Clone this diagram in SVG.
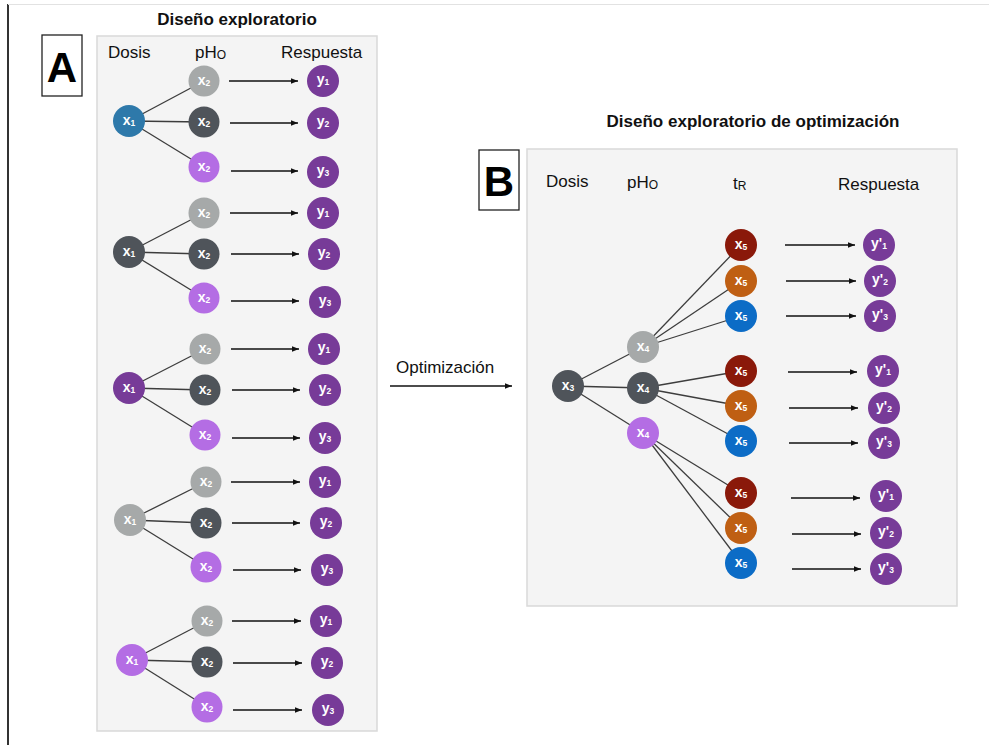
<svg xmlns="http://www.w3.org/2000/svg" width="989" height="745" viewBox="0 0 989 745">
<defs>
<marker id="ah" viewBox="0 0 10 10" refX="10" refY="5" markerWidth="7" markerHeight="7" markerUnits="userSpaceOnUse" orient="auto"><path d="M0,1 L10,5 L0,9 z" fill="#111"/></marker>
<style>
.frame{stroke:#333;stroke-width:2;fill:none}
.topline{stroke:#e2e2e2;stroke-width:1;fill:none}
.panel{fill:#f4f4f4;stroke:#d9d9d9;stroke-width:1.5}
.lbox{fill:#fff;stroke:#222;stroke-width:1.3}
.big{font-family:"Liberation Sans",Arial,sans-serif;font-weight:bold;font-size:42px;fill:#000}
.title{font-family:"Liberation Sans",Arial,sans-serif;font-weight:bold;font-size:17px;fill:#111}
.hdr{font-family:"Liberation Sans",Arial,sans-serif;font-size:17px;fill:#111}
.hsub{font-size:12px}
.lab{font-family:"Liberation Sans",Arial,sans-serif;font-size:17px;fill:#111}
.edge{stroke:#3d3d3d;stroke-width:1.3;fill:none}
.arr{stroke:#111;stroke-width:1.3;fill:none;marker-end:url(#ah)}
.nl{font-family:"Liberation Sans",Arial,sans-serif;font-weight:bold;font-size:14px;fill:#fff;text-anchor:middle}
.sub{font-size:8.5px}
.blue{fill:#2e79aa}
.dark{fill:#4f545a}
.lgray{fill:#a6a9a9}
.lpur{fill:#b46de4}
.pur{fill:#773b98}
.red{fill:#8a190a}
.org{fill:#bf5f13}
.blu2{fill:#0c6cc6}
</style>
</defs>
<line class="frame" x1="8" y1="4" x2="8" y2="745"/>
<line class="topline" x1="8" y1="4.5" x2="989" y2="4.5"/>

<g id="panelA">
<rect class="panel" x="97" y="36" width="280" height="695"/>
<rect class="lbox" x="42" y="35" width="40" height="61"/>
<text class="big" x="62" y="82" text-anchor="middle">A</text>
<text class="title" x="237" y="25" text-anchor="middle">Diseño exploratorio</text>
<text class="hdr" x="108" y="58">Dosis</text>
<text class="hdr" x="195" y="58">pH<tspan class="hsub" dy="1">O</tspan></text>
<text class="hdr" x="281" y="58">Respuesta</text>
</g>

<g id="panelB">
<rect class="panel" x="527" y="149" width="430" height="457"/>
<rect class="lbox" x="479" y="150" width="40" height="60"/>
<text class="big" x="499" y="196" text-anchor="middle">B</text>
<text class="title" x="753" y="127" text-anchor="middle">Diseño exploratorio de optimización</text>
<text class="hdr" x="546" y="187">Dosis</text>
<text class="hdr" x="627" y="188">pH<tspan class="hsub" dy="1">O</tspan></text>
<text class="hdr" x="733" y="189">t<tspan class="hsub" dy="1">R</tspan></text>
<text class="hdr" x="838" y="190">Respuesta</text>
</g>

<g id="connectors">
<line class="edge" x1="129" y1="121" x2="204" y2="81"/><line class="edge" x1="129" y1="121" x2="204" y2="122"/><line class="edge" x1="129" y1="121" x2="204" y2="167"/>
<line class="arr" x1="229" y1="81" x2="298" y2="81"/><line class="arr" x1="230" y1="123" x2="298" y2="123"/><line class="arr" x1="231" y1="171" x2="298" y2="171"/>
<line class="edge" x1="129" y1="252" x2="204" y2="213"/><line class="edge" x1="129" y1="252" x2="204" y2="254"/><line class="edge" x1="129" y1="252" x2="204" y2="298"/>
<line class="arr" x1="230" y1="213" x2="298" y2="213"/><line class="arr" x1="231" y1="254" x2="299" y2="254"/><line class="arr" x1="231" y1="301" x2="299" y2="301"/>
<line class="edge" x1="129" y1="388" x2="205" y2="349"/><line class="edge" x1="129" y1="388" x2="205" y2="390"/><line class="edge" x1="129" y1="388" x2="205" y2="435"/>
<line class="arr" x1="231" y1="349" x2="299" y2="349"/><line class="arr" x1="232" y1="390" x2="300" y2="390"/><line class="arr" x1="232" y1="438" x2="300" y2="438"/>
<line class="edge" x1="130" y1="520" x2="206" y2="482"/><line class="edge" x1="130" y1="520" x2="206" y2="523"/><line class="edge" x1="130" y1="520" x2="206" y2="567"/>
<line class="arr" x1="231" y1="482" x2="300" y2="482"/><line class="arr" x1="232" y1="523" x2="300" y2="523"/><line class="arr" x1="233" y1="570" x2="301" y2="570"/>
<line class="edge" x1="132" y1="660" x2="207" y2="621"/><line class="edge" x1="132" y1="660" x2="207" y2="662"/><line class="edge" x1="132" y1="660" x2="207" y2="707"/>
<line class="arr" x1="232" y1="621" x2="301" y2="621"/><line class="arr" x1="233" y1="663" x2="302" y2="663"/><line class="arr" x1="233" y1="710" x2="302" y2="710"/>
<line class="arr" x1="390" y1="386" x2="512" y2="386"/>
<line class="edge" x1="568" y1="386" x2="643" y2="347"/><line class="edge" x1="568" y1="386" x2="643" y2="388"/><line class="edge" x1="568" y1="386" x2="643" y2="433"/>
<line class="edge" x1="643" y1="347" x2="741" y2="245"/><line class="edge" x1="643" y1="347" x2="741" y2="281"/><line class="edge" x1="643" y1="347" x2="741" y2="316"/>
<line class="edge" x1="643" y1="388" x2="741" y2="371"/><line class="edge" x1="643" y1="388" x2="741" y2="406"/><line class="edge" x1="643" y1="388" x2="741" y2="441"/>
<line class="edge" x1="643" y1="433" x2="741" y2="493"/><line class="edge" x1="643" y1="433" x2="741" y2="528"/><line class="edge" x1="643" y1="433" x2="741" y2="563"/>
<line class="arr" x1="785" y1="245" x2="855" y2="245"/><line class="arr" x1="786" y1="281" x2="856" y2="281"/><line class="arr" x1="786" y1="316" x2="856" y2="316"/>
<line class="arr" x1="788" y1="372" x2="857" y2="372"/><line class="arr" x1="789" y1="408" x2="858" y2="408"/><line class="arr" x1="789" y1="443" x2="858" y2="443"/>
<line class="arr" x1="791" y1="498" x2="860" y2="498"/><line class="arr" x1="792" y1="534" x2="861" y2="534"/><line class="arr" x1="792" y1="569" x2="861" y2="569"/>
</g>

<text class="lab" x="396" y="373">Optimización</text>

<g id="a1-x1"><circle class="blue" cx="129" cy="121" r="16"/><text class="nl" x="129" y="125">x<tspan class="sub" dy="1">1</tspan></text></g>
<g id="a1-x2a"><circle class="lgray" cx="204" cy="81" r="15.5"/><text class="nl" x="204" y="85">x<tspan class="sub" dy="1">2</tspan></text></g>
<g id="a1-x2b"><circle class="dark" cx="204" cy="122" r="15.5"/><text class="nl" x="204" y="126">x<tspan class="sub" dy="1">2</tspan></text></g>
<g id="a1-x2c"><circle class="lpur" cx="204" cy="167" r="15.5"/><text class="nl" x="204" y="171">x<tspan class="sub" dy="1">2</tspan></text></g>
<g id="a1-y1"><circle class="pur" cx="323" cy="81" r="16"/><text class="nl" x="323" y="84">y<tspan class="sub" dy="1">1</tspan></text></g>
<g id="a1-y2"><circle class="pur" cx="323" cy="123" r="16"/><text class="nl" x="323" y="126">y<tspan class="sub" dy="1">2</tspan></text></g>
<g id="a1-y3"><circle class="pur" cx="323" cy="172" r="16"/><text class="nl" x="323" y="175">y<tspan class="sub" dy="1">3</tspan></text></g>

<g id="a2-x1"><circle class="dark" cx="129" cy="252" r="16"/><text class="nl" x="129" y="256">x<tspan class="sub" dy="1">1</tspan></text></g>
<g id="a2-x2a"><circle class="lgray" cx="204" cy="213" r="15.5"/><text class="nl" x="204" y="217">x<tspan class="sub" dy="1">2</tspan></text></g>
<g id="a2-x2b"><circle class="dark" cx="204" cy="254" r="15.5"/><text class="nl" x="204" y="258">x<tspan class="sub" dy="1">2</tspan></text></g>
<g id="a2-x2c"><circle class="lpur" cx="204" cy="298" r="15.5"/><text class="nl" x="204" y="302">x<tspan class="sub" dy="1">2</tspan></text></g>
<g id="a2-y1"><circle class="pur" cx="323" cy="213" r="16"/><text class="nl" x="323" y="216">y<tspan class="sub" dy="1">1</tspan></text></g>
<g id="a2-y2"><circle class="pur" cx="324" cy="254" r="16"/><text class="nl" x="324" y="257">y<tspan class="sub" dy="1">2</tspan></text></g>
<g id="a2-y3"><circle class="pur" cx="325" cy="302" r="16"/><text class="nl" x="325" y="305">y<tspan class="sub" dy="1">3</tspan></text></g>

<g id="a3-x1"><circle class="pur" cx="129" cy="388" r="16"/><text class="nl" x="129" y="392">x<tspan class="sub" dy="1">1</tspan></text></g>
<g id="a3-x2a"><circle class="lgray" cx="205" cy="349" r="15.5"/><text class="nl" x="205" y="353">x<tspan class="sub" dy="1">2</tspan></text></g>
<g id="a3-x2b"><circle class="dark" cx="205" cy="390" r="15.5"/><text class="nl" x="205" y="394">x<tspan class="sub" dy="1">2</tspan></text></g>
<g id="a3-x2c"><circle class="lpur" cx="205" cy="435" r="15.5"/><text class="nl" x="205" y="439">x<tspan class="sub" dy="1">2</tspan></text></g>
<g id="a3-y1"><circle class="pur" cx="324" cy="349" r="16"/><text class="nl" x="324" y="352">y<tspan class="sub" dy="1">1</tspan></text></g>
<g id="a3-y2"><circle class="pur" cx="325" cy="390" r="16"/><text class="nl" x="325" y="393">y<tspan class="sub" dy="1">2</tspan></text></g>
<g id="a3-y3"><circle class="pur" cx="325" cy="438" r="16"/><text class="nl" x="325" y="441">y<tspan class="sub" dy="1">3</tspan></text></g>

<g id="a4-x1"><circle class="lgray" cx="130" cy="520" r="16"/><text class="nl" x="130" y="524">x<tspan class="sub" dy="1">1</tspan></text></g>
<g id="a4-x2a"><circle class="lgray" cx="206" cy="482" r="15.5"/><text class="nl" x="206" y="486">x<tspan class="sub" dy="1">2</tspan></text></g>
<g id="a4-x2b"><circle class="dark" cx="206" cy="523" r="15.5"/><text class="nl" x="206" y="527">x<tspan class="sub" dy="1">2</tspan></text></g>
<g id="a4-x2c"><circle class="lpur" cx="206" cy="567" r="15.5"/><text class="nl" x="206" y="571">x<tspan class="sub" dy="1">2</tspan></text></g>
<g id="a4-y1"><circle class="pur" cx="325" cy="482" r="16"/><text class="nl" x="325" y="485">y<tspan class="sub" dy="1">1</tspan></text></g>
<g id="a4-y2"><circle class="pur" cx="326" cy="523" r="16"/><text class="nl" x="326" y="526">y<tspan class="sub" dy="1">2</tspan></text></g>
<g id="a4-y3"><circle class="pur" cx="327" cy="570" r="16"/><text class="nl" x="327" y="573">y<tspan class="sub" dy="1">3</tspan></text></g>

<g id="a5-x1"><circle class="lpur" cx="132" cy="660" r="16"/><text class="nl" x="132" y="664">x<tspan class="sub" dy="1">1</tspan></text></g>
<g id="a5-x2a"><circle class="lgray" cx="207" cy="621" r="15.5"/><text class="nl" x="207" y="625">x<tspan class="sub" dy="1">2</tspan></text></g>
<g id="a5-x2b"><circle class="dark" cx="207" cy="662" r="15.5"/><text class="nl" x="207" y="666">x<tspan class="sub" dy="1">2</tspan></text></g>
<g id="a5-x2c"><circle class="lpur" cx="207" cy="707" r="15.5"/><text class="nl" x="207" y="711">x<tspan class="sub" dy="1">2</tspan></text></g>
<g id="a5-y1"><circle class="pur" cx="326" cy="621" r="16"/><text class="nl" x="326" y="624">y<tspan class="sub" dy="1">1</tspan></text></g>
<g id="a5-y2"><circle class="pur" cx="327" cy="663" r="16"/><text class="nl" x="327" y="666">y<tspan class="sub" dy="1">2</tspan></text></g>
<g id="a5-y3"><circle class="pur" cx="328" cy="710" r="16"/><text class="nl" x="328" y="713">y<tspan class="sub" dy="1">3</tspan></text></g>

<g id="b-x3"><circle class="dark" cx="568" cy="386" r="16"/><text class="nl" x="568" y="390">x<tspan class="sub" dy="1">3</tspan></text></g>
<g id="b-x4a"><circle class="lgray" cx="643" cy="347" r="16"/><text class="nl" x="643" y="351">x<tspan class="sub" dy="1">4</tspan></text></g>
<g id="b-x4b"><circle class="dark" cx="643" cy="388" r="16"/><text class="nl" x="643" y="392">x<tspan class="sub" dy="1">4</tspan></text></g>
<g id="b-x4c"><circle class="lpur" cx="643" cy="433" r="16"/><text class="nl" x="643" y="437">x<tspan class="sub" dy="1">4</tspan></text></g>

<g id="b-x5-1a"><circle class="red" cx="741" cy="245" r="16"/><text class="nl" x="741" y="249">x<tspan class="sub" dy="1">5</tspan></text></g>
<g id="b-x5-1b"><circle class="org" cx="741" cy="281" r="16"/><text class="nl" x="741" y="285">x<tspan class="sub" dy="1">5</tspan></text></g>
<g id="b-x5-1c"><circle class="blu2" cx="741" cy="316" r="16"/><text class="nl" x="741" y="320">x<tspan class="sub" dy="1">5</tspan></text></g>
<g id="b-x5-2a"><circle class="red" cx="741" cy="371" r="16"/><text class="nl" x="741" y="375">x<tspan class="sub" dy="1">5</tspan></text></g>
<g id="b-x5-2b"><circle class="org" cx="741" cy="406" r="16"/><text class="nl" x="741" y="410">x<tspan class="sub" dy="1">5</tspan></text></g>
<g id="b-x5-2c"><circle class="blu2" cx="741" cy="441" r="16"/><text class="nl" x="741" y="445">x<tspan class="sub" dy="1">5</tspan></text></g>
<g id="b-x5-3a"><circle class="red" cx="741" cy="493" r="16"/><text class="nl" x="741" y="497">x<tspan class="sub" dy="1">5</tspan></text></g>
<g id="b-x5-3b"><circle class="org" cx="741" cy="528" r="16"/><text class="nl" x="741" y="532">x<tspan class="sub" dy="1">5</tspan></text></g>
<g id="b-x5-3c"><circle class="blu2" cx="741" cy="563" r="16"/><text class="nl" x="741" y="567">x<tspan class="sub" dy="1">5</tspan></text></g>

<g id="b-y1a"><circle class="pur" cx="879" cy="245" r="16"/><text class="nl" x="879" y="248">y'<tspan class="sub" dy="1">1</tspan></text></g>
<g id="b-y2a"><circle class="pur" cx="880" cy="281" r="16"/><text class="nl" x="880" y="284">y'<tspan class="sub" dy="1">2</tspan></text></g>
<g id="b-y3a"><circle class="pur" cx="880" cy="316" r="16"/><text class="nl" x="880" y="319">y'<tspan class="sub" dy="1">3</tspan></text></g>
<g id="b-y1b"><circle class="pur" cx="883" cy="371" r="16"/><text class="nl" x="883" y="374">y'<tspan class="sub" dy="1">1</tspan></text></g>
<g id="b-y2b"><circle class="pur" cx="884" cy="408" r="16"/><text class="nl" x="884" y="411">y'<tspan class="sub" dy="1">2</tspan></text></g>
<g id="b-y3b"><circle class="pur" cx="884" cy="443" r="16"/><text class="nl" x="884" y="446">y'<tspan class="sub" dy="1">3</tspan></text></g>
<g id="b-y1c"><circle class="pur" cx="886" cy="496" r="16"/><text class="nl" x="886" y="499">y'<tspan class="sub" dy="1">1</tspan></text></g>
<g id="b-y2c"><circle class="pur" cx="886" cy="533" r="16"/><text class="nl" x="886" y="536">y'<tspan class="sub" dy="1">2</tspan></text></g>
<g id="b-y3c"><circle class="pur" cx="886" cy="569" r="16"/><text class="nl" x="886" y="572">y'<tspan class="sub" dy="1">3</tspan></text></g>
</svg>
